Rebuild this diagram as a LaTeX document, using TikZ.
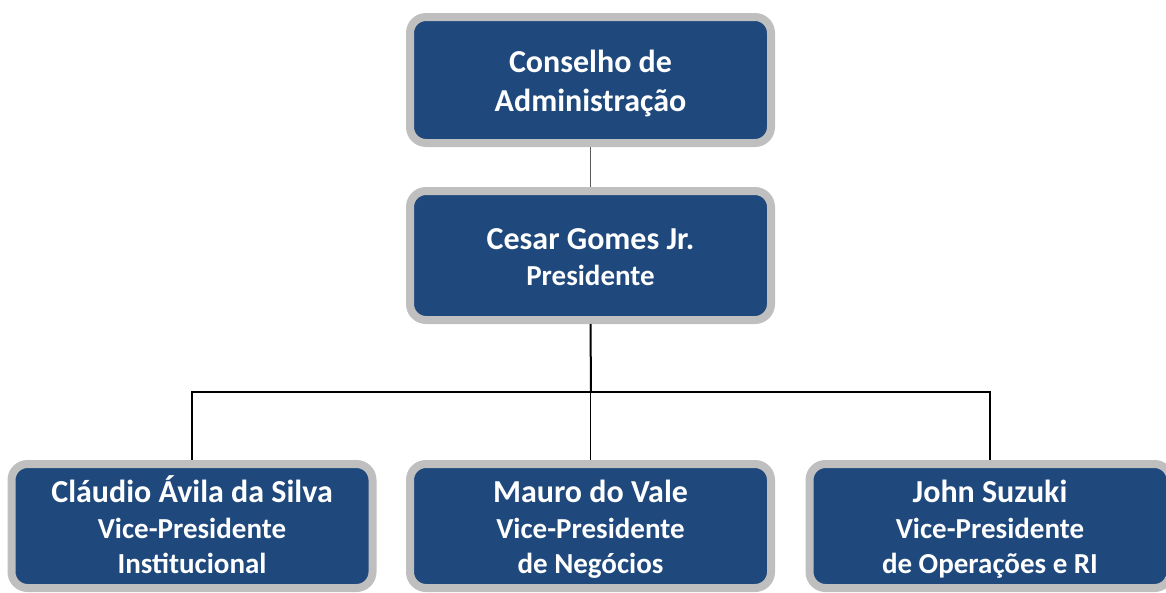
\documentclass[tikz,border=0pt]{standalone}
\usepackage{fontspec}
\setmainfont{Carlito}
\usepackage{tikz}
\definecolor{boxblue}{HTML}{1F497D}
\definecolor{boxgrey}{HTML}{BFBFBF}
% fixed top and bottom of the text block
\newcommand{\hi}{\rule{0pt}{30pt}}
\newcommand{\lo}{\rule[-6pt]{0pt}{6pt}}
% smaller type for the job titles
\newcommand{\role}{\fontsize{29}{35.5}\selectfont}

\begin{document}
\begin{tikzpicture}[x=1pt,y=-1pt,
  post/.style={draw=boxgrey, fill=boxblue, line width=8pt, rounded corners=16pt,
    minimum width=361pt, text=white, align=center,
    font=\fontsize{32}{35.5}\selectfont\bfseries},
  link/.style={black, line width=1.5pt}]
\useasboundingbox (0,0) rectangle (1166,592);

% board and president
\node[post, minimum height=126pt, font=\fontsize{32}{38.7}\selectfont\bfseries] (conselho) at (590.5,80) {\hi Conselho de\\Administração\lo};
\node[post, minimum height=129pt] (presidente) at (590.5,255.5) {\hi Cesar Gomes Jr.\\\role Presidente\lo};

% vice-presidents
\node[post, minimum height=124pt] (vpinst) at (192,526) {\hi Cláudio Ávila da Silva\\\role Vice-Presidente\\\role Institucional\lo};
\node[post, minimum height=124pt] (vpneg) at (590.5,526) {\hi Mauro do Vale\\\role Vice-Presidente\\\role de Negócios\lo};
\node[post, minimum height=124pt] (vpop) at (990,526) {\hi John Suzuki\\\role Vice-Presidente\\\role de Operações e RI\lo};

\coordinate (bus) at (591,392);
\draw[black!65, line width=1pt] (conselho.south) -- (presidente.north);
\draw[link, line width=2pt] (presidente.south) -- (bus);
\draw[link] (vpinst.north) -- (vpinst.north |- bus) -- (vpop.north |- bus) -- (vpop.north);
\draw[link] (vpneg.north) -- (vpneg.north |- bus);
\end{tikzpicture}
\end{document}
